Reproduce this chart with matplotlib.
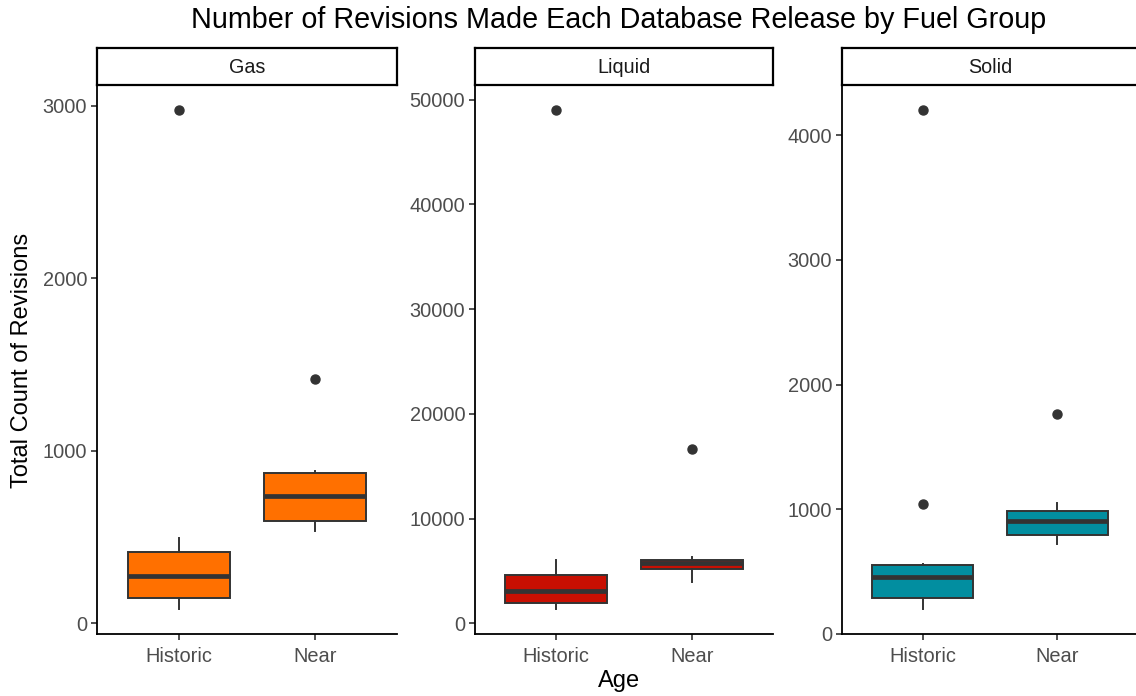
import matplotlib
matplotlib.use("Agg")
import matplotlib.pyplot as plt
from matplotlib.ticker import MultipleLocator

plt.rcParams["font.family"] = ["Liberation Sans", "DejaVu Sans"]

# data (box stats per fuel group)
groups = ["Gas", "Liquid", "Solid"]
ages = ["Historic", "Near"]
colors = ["#FF7000", "#C80F02", "#028EA0"]
tick_steps = [1000, 10000, 1000]

whislo = {"Gas": [81, 536], "Liquid": [1364, 3956], "Solid": [200, 719]}
q1 = {"Gas": [145, 592], "Liquid": [1978, 5150], "Solid": [292, 791]}
med = {"Gas": [273, 735], "Liquid": [3104, 5798], "Solid": [458, 903]}
q3 = {"Gas": [414, 870], "Liquid": [4604, 6071], "Solid": [550, 988]}
whishi = {"Gas": [495, 884], "Liquid": [6003, 6310], "Solid": [564, 1054]}
outliers = {
    "Gas": [[2975], [1416]],
    "Liquid": [[49010], [16610]],
    "Solid": [[4203, 1046], [1765]],
}

W, H = 1136, 696
fig = plt.figure(figsize=(W / 100, H / 100), dpi=100)

# panel extents in pixels (left, right)
panels = [(97, 397), (475, 773), (842, 1138)]
top, bottom, strip_top = 85, 634, 48

dark = "#333333"
for g, (x0, x1), col, step in zip(groups, panels, colors, tick_steps):
    ax = fig.add_axes([x0 / W, 1 - bottom / H, (x1 - x0) / W, (bottom - top) / H])
    stats = []
    for i, a in enumerate(ages):
        stats.append({
            "label": a, "med": med[g][i], "q1": q1[g][i], "q3": q3[g][i],
            "whislo": whislo[g][i], "whishi": whishi[g][i],
            "fliers": outliers[g][i],
        })
    ax.bxp(
        stats, positions=[1, 2], widths=0.75, patch_artist=True,
        showcaps=False,
        boxprops=dict(facecolor=col, edgecolor=dark, linewidth=1.4),
        medianprops=dict(color=dark, linewidth=3.4, solid_capstyle="butt"),
        whiskerprops=dict(color=dark, linewidth=1.4),
        flierprops=dict(marker="o", markerfacecolor=dark, markeredgecolor=dark,
                        markersize=6.5),
    )
    ax.set_xlim(0.4, 2.6)
    ax.margins(y=0.05)
    ax.autoscale(axis="y")
    ax.yaxis.set_major_locator(MultipleLocator(step))
    ax.set_xticks([1, 2])
    ax.set_xticklabels(ages)
    for s in ["top", "right"]:
        ax.spines[s].set_visible(False)
    for s in ["left", "bottom"]:
        ax.spines[s].set_linewidth(1.3)
        ax.spines[s].set_color("black")
    ax.tick_params(axis="both", length=4, width=1.2, color=dark,
                   labelsize=14.4, labelcolor="#4D4D4D")
    ax.tick_params(axis="x", pad=5)
    ax.tick_params(axis="y", pad=3)

    sx = fig.add_axes([x0 / W, 1 - top / H, (x1 - x0) / W, (top - strip_top) / H])
    sx.set_xticks([])
    sx.set_yticks([])
    for s in sx.spines.values():
        s.set_linewidth(1.6)
        s.set_color("black")
    sx.text(0.5, 0.48, g, ha="center", va="center", fontsize=14.2,
            color="#1A1A1A", transform=sx.transAxes)

fig.text(619 / W, 1 - 20 / H, "Number of Revisions Made Each Database Release by Fuel Group",
         ha="center", va="center", fontsize=20.7, color="black")
fig.text(619 / W, 1 - 681 / H, "Age", ha="center", va="center", fontsize=17)
fig.text(22 / W, 1 - 360 / H, "Total Count of Revisions", ha="center", va="center",
         rotation=90, fontsize=17)

fig.savefig("out.png", dpi=100, facecolor="white")
